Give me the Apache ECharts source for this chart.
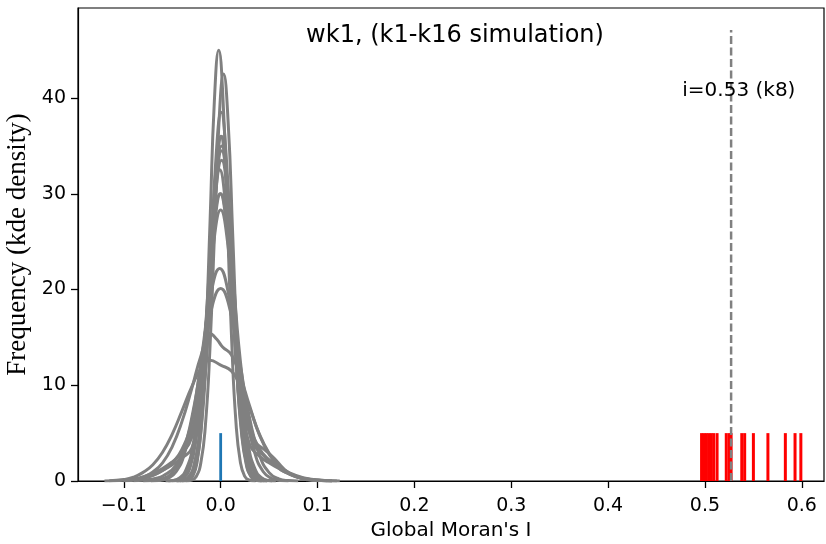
<!DOCTYPE html>
<html>
<head>
<meta charset="utf-8">
<script src="https://cdn.jsdelivr.net/npm/echarts@6/dist/echarts.min.js"></script>
<style>html,body{margin:0;padding:0;background:#fff}#c{width:826px;height:544px}</style>
</head>
<body>
<div id="c"></div>
<script>
// ---- data ----
const xTicks = [-0.1, 0.0, 0.1, 0.2, 0.3, 0.4, 0.5, 0.6];
const yTicks = [0, 10, 20, 30, 40];
const k1 = [[-0.040,0],[-0.0332,0.10],[-0.0287,0.50],[-0.0243,1.98],[-0.0198,6.09],[-0.0154,14.61],[-0.0109,27.29],[-0.0065,39.71],[-0.002,45.0],[0.0025,39.71],[0.0069,27.29],[0.0114,14.61],[0.0158,6.09],[0.0203,1.98],[0.0247,0.50],[0.0292,0.10],[0.036,0]];
const k2 = [[-0.036,0],[-0.0299,0.09],[-0.0252,0.47],[-0.0205,1.87],[-0.0158,5.75],[-0.0111,13.80],[-0.0064,25.78],[-0.0017,37.51],[0.003,42.5],[0.0077,37.51],[0.0124,25.78],[0.0171,13.80],[0.0218,5.75],[0.0265,1.87],[0.0312,0.47],[0.0359,0.09],[0.042,0]];
const k3 = [[-0.042,0],[-0.0359,0.08],[-0.0307,0.43],[-0.0255,1.69],[-0.0203,5.21],[-0.0151,12.50],[-0.0099,23.35],[-0.0047,33.98],[0.0005,38.5],[0.0057,33.98],[0.0109,23.35],[0.0161,12.50],[0.0213,5.21],[0.0265,1.69],[0.0317,0.43],[0.0369,0.08],[0.043,0]];
const k4 = [[-0.045,0],[-0.0385,0.08],[-0.033,0.40],[-0.0275,1.58],[-0.022,4.87],[-0.0165,11.69],[-0.011,21.83],[-0.0055,31.77],[0,36.0],[0.0055,31.77],[0.011,21.83],[0.0165,11.69],[0.022,4.87],[0.0275,1.58],[0.033,0.40],[0.0385,0.08],[0.045,0]];
const k5 = [[-0.046,0],[-0.0393,0.08],[-0.0335,0.38],[-0.0278,1.51],[-0.022,4.67],[-0.0163,11.20],[-0.0105,20.92],[-0.0048,30.45],[0.001,34.5],[0.0068,30.45],[0.0125,20.92],[0.0183,11.20],[0.024,4.67],[0.0298,1.51],[0.0355,0.38],[0.0413,0.08],[0.048,0]];
const k6 = [[-0.050,0],[-0.0437,0.07],[-0.0376,0.36],[-0.0315,1.43],[-0.0254,4.40],[-0.0193,10.55],[-0.0132,19.71],[-0.0071,28.68],[-0.001,32.5],[0.0051,28.68],[0.0112,19.71],[0.0173,10.55],[0.0234,4.40],[0.0295,1.43],[0.0356,0.36],[0.0417,0.07],[0.048,0]];
const k7 = [[-0.054,0],[-0.0471,0.07],[-0.0404,0.33],[-0.0338,1.32],[-0.0271,4.06],[-0.0205,9.74],[-0.0138,18.20],[-0.0072,26.48],[-0.0005,30.0],[0.0062,26.48],[0.0128,18.20],[0.0195,9.74],[0.0261,4.06],[0.0328,1.32],[0.0394,0.33],[0.0461,0.07],[0.053,0]];
const k8 = [[-0.057,0],[-0.0497,0.06],[-0.0426,0.31],[-0.0355,1.24],[-0.0284,3.83],[-0.0213,9.19],[-0.0142,17.16],[-0.0071,24.97],[0,28.3],[0.0071,24.97],[0.0142,17.16],[0.0213,9.19],[0.0284,3.83],[0.0355,1.24],[0.0426,0.31],[0.0497,0.06],[0.057,0]];
const k9 = [[-0.072,0],[-0.064,0.05],[-0.055,0.25],[-0.046,0.97],[-0.037,3.00],[-0.028,7.21],[-0.019,13.46],[-0.010,19.59],[-0.001,22.2],[0.008,19.59],[0.017,13.46],[0.026,7.21],[0.035,3.00],[0.044,0.97],[0.053,0.25],[0.062,0.05],[0.070,0]];
const k10 = [[-0.08,0],[-0.07,0.04],[-0.06,0.22],[-0.05,0.88],[-0.04,2.72],[-0.03,6.53],[-0.02,12.19],[-0.01,17.74],[0,20.1],[0.01,17.74],[0.02,12.19],[0.03,6.53],[0.04,2.72],[0.05,0.88],[0.06,0.22],[0.07,0.04],[0.08,0]];
const k11 = [[-0.10,0.05],[-0.09,0.15],[-0.08,0.4],[-0.07,0.95],[-0.06,1.9],[-0.05,3.6],[-0.04,6.2],[-0.03,9.6],[-0.02,13.2],[-0.011,15.4],[-0.004,14.8],[0.002,14.0],[0.011,13.2],[0.02,11.0],[0.03,7.8],[0.04,4.8],[0.05,2.8],[0.06,1.5],[0.07,0.8],[0.08,0.35],[0.09,0.12],[0.10,0.03]];
const k12 = [[-0.115,0.02],[-0.10,0.15],[-0.09,0.4],[-0.08,0.9],[-0.07,1.7],[-0.06,3.0],[-0.05,4.9],[-0.04,7.3],[-0.03,9.8],[-0.02,11.8],[-0.011,12.6],[0.0,12.1],[0.011,11.5],[0.02,10.0],[0.03,7.6],[0.04,4.9],[0.05,2.9],[0.06,1.6],[0.07,0.85],[0.08,0.4],[0.09,0.18],[0.10,0.07],[0.115,0.01]];
const k13 = [[-0.12,0.01],[-0.10,0.08],[-0.085,0.3],[-0.07,0.8],[-0.06,1.3],[-0.05,2.0],[-0.04,2.9],[-0.03,4.5],[-0.02,9.5],[-0.012,19],[-0.006,29],[0.001,33.5],[0.008,28.5],[0.014,19.5],[0.022,9.5],[0.032,4.3],[0.045,2.6],[0.055,1.8],[0.065,1.0],[0.08,0.4],[0.10,0.1],[0.123,0.01]];
const k14 = [[-0.09,0.02],[-0.07,0.2],[-0.055,0.8],[-0.045,1.8],[-0.035,3.6],[-0.025,7.5],[-0.015,16],[-0.007,26],[0.0,30],[0.007,26],[0.015,16],[0.025,7.5],[0.035,4.2],[0.045,3.3],[0.055,2.4],[0.065,1.3],[0.075,0.6],[0.09,0.15],[0.11,0.02]];
const k15 = [[-0.10,0.03],[-0.085,0.15],[-0.07,0.6],[-0.06,1.1],[-0.05,1.9],[-0.04,3.3],[-0.03,6.2],[-0.02,12],[-0.012,20],[-0.005,31],[0.001,35],[0.007,31],[0.014,20],[0.022,11],[0.03,6.0],[0.04,3.4],[0.05,2.2],[0.06,1.5],[0.07,0.9],[0.085,0.35],[0.10,0.1],[0.12,0.01]];
const k16 = [[-0.10,0.03],[-0.085,0.2],[-0.07,0.6],[-0.06,1.1],[-0.05,1.7],[-0.04,2.4],[-0.03,3.4],[-0.02,7.5],[-0.012,17],[-0.006,29],[0.001,36],[0.008,29],[0.014,18],[0.021,8.5],[0.03,3.8],[0.04,2.6],[0.05,1.9],[0.06,1.3],[0.07,0.8],[0.085,0.3],[0.10,0.08],[0.115,0.01]];
const kdeCurves = [k1,k2,k3,k4,k5,k6,k7,k8,k9,k10,k11,k12,k13,k14,k15,k16];
const simI = [0.4965, 0.499, 0.5015, 0.504, 0.5065, 0.509, 0.5125, 0.522, 0.525, 0.527, 0.538, 0.541, 0.550, 0.565, 0.583, 0.593, 0.599];
const observedI = [0.0];
const rugHeight = 5;
const markerI = 0.527;
const markerTop = 47.1;
const markerText = 'i=0.53 (k8)';
const markerLabelPos = [0.535, 40.8];

const chart = echarts.init(document.getElementById('c'), null, {renderer: 'canvas'});
const fmt = v => (v < 0 ? '\u2212' : '') + Math.abs(v).toFixed(1);

function rugSeries(vals, color, width) {
  return {
    type: 'custom',
    silent: true,
    data: vals.map(v => [v, rugHeight]),
    renderItem: (params, api) => {
      const p0 = api.coord([api.value(0), 0]);
      const p1 = api.coord([api.value(0), api.value(1)]);
      return {type: 'line', shape: {x1: p0[0], y1: p0[1], x2: p1[0], y2: p1[1]},
              style: {stroke: color, lineWidth: width}};
    },
    z: 5
  };
}

const series = kdeCurves.map(d => ({
  type: 'line', data: d, smooth: 0.5, showSymbol: false, symbol: 'none',
  lineStyle: {color: '#808080', width: 3}, silent: true, z: 2
}));
series.push(rugSeries(simI, '#ff0000', 3));
series.push(rugSeries(observedI, '#1f77b4', 2.8));
series.push({
  type: 'line', data: [[markerI, 0], [markerI, markerTop]], symbol: 'none', silent: true,
  lineStyle: {color: '#808080', width: 2.5, type: [8, 3.5]}, z: 6
});
series.push({
  type: 'custom', silent: true, data: [markerLabelPos], z: 7,
  renderItem: (params, api) => {
    const p = api.coord([api.value(0), api.value(1)]);
    return {type: 'text', x: p[0], y: p[1],
            style: {text: markerText, fill: '#000', fontFamily: 'DejaVu Sans', fontSize: 20,
                    textAlign: 'center', textVerticalAlign: 'middle'}};
  }
});

chart.setOption({
  animation: false,
  backgroundColor: '#fff',
  grid: {left: 78, right: 2, top: 8, bottom: 63, show: true, borderColor: '#000', borderWidth: 1.2,
         containLabel: false, outerBoundsMode: 'none'},
  xAxis: {
    type: 'value', min: -0.1473, max: 0.6229,
    name: "Global Moran's I", nameLocation: 'middle', nameGap: 40,
    nameTextStyle: {fontFamily: 'DejaVu Sans', fontSize: 20, color: '#000'},
    axisLine: {show: true, onZero: false, lineStyle: {color: '#000', width: 1.2}},
    axisTick: {show: true, inside: false, length: 7, customValues: xTicks, lineStyle: {color: '#000', width: 1.3}},
    axisLabel: {customValues: xTicks, formatter: fmt, fontFamily: 'DejaVu Sans', fontSize: 19, color: '#000', margin: 16},
    splitLine: {show: false}
  },
  yAxis: {
    type: 'value', min: 0, max: 49.4,
    name: 'Frequency (kde density)', nameLocation: 'middle', nameGap: 38,
    nameTextStyle: {fontFamily: 'Liberation Serif', fontSize: 27, color: '#000'},
    axisLine: {show: true, onZero: false, lineStyle: {color: '#000', width: 1.2}},
    axisTick: {show: true, inside: false, length: 7, customValues: yTicks, lineStyle: {color: '#000', width: 1.3}},
    axisLabel: {customValues: yTicks, formatter: v => String(v), fontFamily: 'DejaVu Sans', fontSize: 19, color: '#000', margin: 12},
    splitLine: {show: false}
  },
  graphic: [{
    type: 'text', x: 455, y: 36,
    style: {text: 'wk1, (k1-k16 simulation)', fontFamily: 'DejaVu Sans', fontSize: 24, fill: '#000',
            textAlign: 'center', textVerticalAlign: 'middle'}
  }],
  series: series
});
</script>
</body>
</html>
